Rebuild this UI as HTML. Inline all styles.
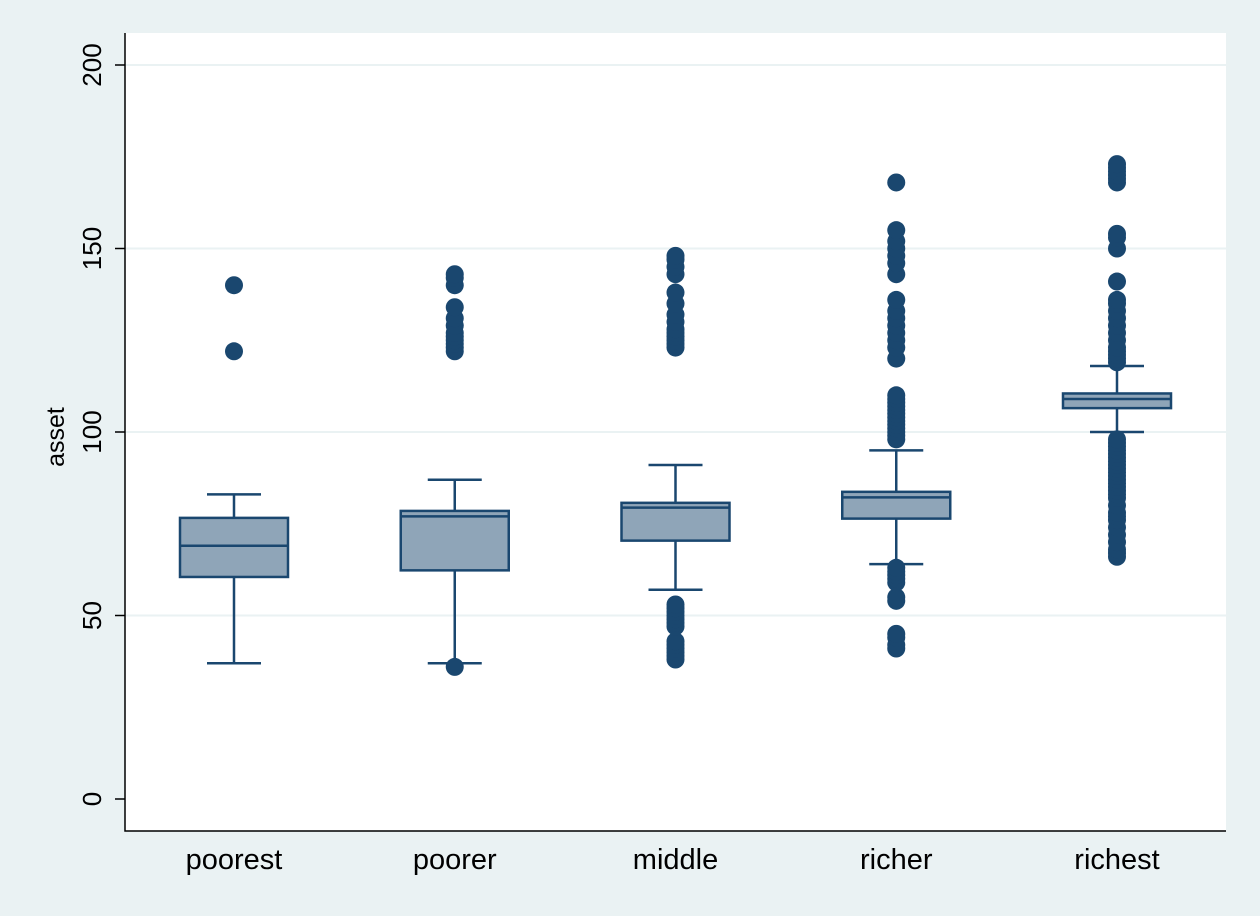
<!DOCTYPE html>
<html><head><meta charset="utf-8"><style>
body{margin:0;background:#eaf2f3;}
svg{display:block;font-family:"Liberation Sans",sans-serif;}
</style></head><body>
<svg id="chart" width="1260" height="916">
<rect x="0" y="0" width="1260" height="916" fill="#eaf2f3"/>
<rect x="125" y="33" width="1101" height="798" fill="#ffffff"/>
<g id="grid"></g><g id="marks"></g><g id="axes"></g>
</svg>
<script>
const categories=["poorest","poorer","middle","richer","richest"];
const q1=[60.5,62.3,70.4,76.4,106.5];
const med=[69,77,79.4,82.2,109];
const q3=[76.6,78.5,80.7,83.7,110.5];
const whiskLo=[37,37,57,64,100];
const whiskHi=[83,87,91,95,118];
const outliers=[
 [122,140],
 [36,122,123,124,125,126,127,129,131,134,140,142,143],
 [38,39,40,41,42,43,47,48,49,50,51,52,53,123,124,125,126,127,128,130,132,135,138,143,145,147,148],
 [41,42,44,45,54,55,59,60,61,62,63,98,99,100,101,102,103,104,105,106,107,108,109,110,120,123,125,127,129,131,133,136,143,146,148,150,152,155,168],
 [66,67,68,70,72,74,76,77,78,80,82,83,84,85,86,87,88,89,90,91,92,93,94,95,96,97,98,119,120,121,122,123,125,127,129,131,133,135,136,141,150,153,154,168,169,170,171,172,173]
];
const yTicks=[0,50,100,150,200];
const NS="http://www.w3.org/2000/svg";
const y=v=>799-v*3.67;
const x=i=>234+i*220.75;
const C="#1a476f";
function mk(tag,attrs,parent){const e=document.createElementNS(NS,tag);for(const k in attrs)e.setAttribute(k,attrs[k]);document.getElementById(parent).appendChild(e);return e;}
yTicks.forEach(t=>{
 if(t>0){const g=mk("line",{x1:125,x2:1226,y1:y(t),y2:y(t),stroke:"#eaf2f3","stroke-width":2},"grid");
 
 }
 const tk=mk("line",{x1:115,x2:125,y1:y(t),y2:y(t),stroke:"#000","stroke-width":1.5},"axes");
 
 
 const tx=mk("text",{x:0,y:0,transform:`translate(101,${y(t)}) rotate(-90)`,"text-anchor":"middle","font-size":26},"axes");
 tx.textContent=t;
 
 
});
const ax=mk("path",{d:"M125,33 V831 H1226",fill:"none",stroke:"#000","stroke-width":1.5},"axes");


const yt=mk("text",{x:0,y:0,transform:"translate(64,437) rotate(-90)","text-anchor":"middle","font-size":25},"axes");
yt.textContent="asset";


categories.forEach((c,i)=>{
 const cx=x(i),w=54;
 const wl=mk("path",{d:`M${cx},${y(q1[i])} V${y(whiskLo[i])} M${cx-27},${y(whiskLo[i])} H${cx+27} M${cx},${y(q3[i])} V${y(whiskHi[i])} M${cx-27},${y(whiskHi[i])} H${cx+27}`,stroke:C,"stroke-width":2.5,fill:"none"},"marks");
 
 
 const b=mk("rect",{x:cx-w,y:y(q3[i]),width:2*w,height:y(q1[i])-y(q3[i]),fill:"#8fa5b8",stroke:C,"stroke-width":2.5},"marks");
 
 
 const m=mk("line",{x1:cx-w,x2:cx+w,y1:y(med[i]),y2:y(med[i]),stroke:C,"stroke-width":2.5},"marks");
 
 
 outliers[i].forEach(v=>{
  const d=mk("circle",{cx:cx,cy:y(v),r:9,fill:C},"marks");
  
  
 });
 const l=mk("text",{x:cx,y:869,"text-anchor":"middle","font-size":29},"axes");
 l.textContent=c;
 
 
});
</script>
</body></html>
